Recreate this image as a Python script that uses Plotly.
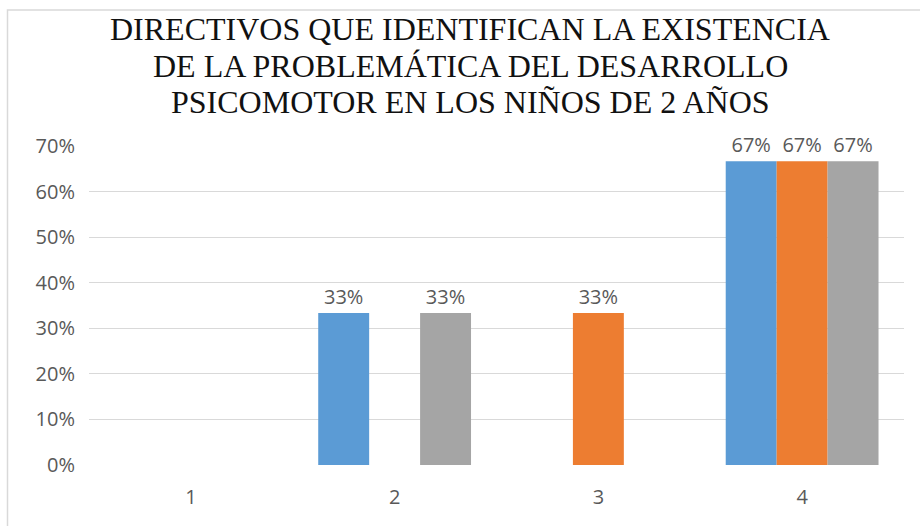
import plotly.graph_objects as go

# Chart data
categories = ["1", "2", "3", "4"]
serie1 = [0.0, 0.3333, 0.0, 0.6667]
serie2 = [0.0, 0.0, 0.3333, 0.6667]
serie3 = [0.0, 0.3333, 0.0, 0.6667]
series_names = ["Serie1", "Serie2", "Serie3"]
series_colors = ["#5b9bd5", "#ed7d31", "#a5a5a5"]
title_lines = [
    "DIRECTIVOS QUE IDENTIFICAN LA EXISTENCIA",
    "DE LA PROBLEMÁTICA DEL DESARROLLO",
    "PSICOMOTOR EN LOS NIÑOS DE 2 AÑOS",
]
y_ticks = [0, 0.1, 0.2, 0.3, 0.4, 0.5, 0.6, 0.7]

LABEL_COLOR = "#595959"
SANS = "Open Sans, Liberation Sans, sans-serif"
SERIF = "Liberation Serif, Times New Roman, serif"

fig = go.Figure()
for name, vals, color in zip(series_names, [serie1, serie2, serie3], series_colors):
    fig.add_trace(go.Bar(
        x=categories,
        y=vals,
        name=name,
        marker=dict(color=color, line=dict(width=0)),
        text=[f"{v:.0%}" if v else "" for v in vals],
        textposition="outside",
        textfont=dict(family=SANS, size=20, color=LABEL_COLOR),
        constraintext="none",
        cliponaxis=False,
        hoverinfo="x+y+name",
    ))

# Figure geometry (pixels) used to place the title lines and frame
W, H = 920, 526
ML, MR, MT, MB = 89, 16, 146, 61
plot_w = W - ML - MR
plot_h = H - MT - MB


def px_x(x):
    return (x - ML) / plot_w


def px_y(y):
    return (H - MB - y) / plot_h


title_centers = [29, 66, 102.5]
annotations = [
    dict(
        text=line, xref="paper", yref="paper",
        x=px_x(470), y=px_y(cy), xanchor="center", yanchor="middle",
        showarrow=False,
        font=dict(family=SERIF, size=32, color="#111111"),
    )
    for line, cy in zip(title_lines, title_centers)
]

fig.update_layout(
    width=W, height=H,
    margin=dict(l=ML, r=MR, t=MT, b=MB, pad=0),
    paper_bgcolor="white",
    plot_bgcolor="white",
    barmode="group",
    bargap=0.25,
    bargroupgap=0,
    showlegend=False,
    annotations=annotations,
    shapes=[dict(
        type="rect", xref="paper", yref="paper",
        x0=px_x(7.5), x1=px_x(960), y0=px_y(560), y1=px_y(10),
        line=dict(color="#d9d9d9", width=1.5), fillcolor="rgba(0,0,0,0)",
        layer="below",
    )],
    xaxis=dict(
        type="category",
        showgrid=False, showline=False, zeroline=False, ticks="",
        tickfont=dict(family=SANS, size=20, color=LABEL_COLOR),
        ticklabelstandoff=18,
    ),
    yaxis=dict(
        range=[0, 0.7],
        tickvals=y_ticks,
        tickformat=".0%",
        showgrid=True, gridcolor="#d9d9d9", gridwidth=1,
        zeroline=True, zerolinecolor="white", zerolinewidth=3,
        showline=False, ticks="",
        tickfont=dict(family=SANS, size=20, color=LABEL_COLOR),
        ticklabelstandoff=13,
    ),
)

fig.write_html("out.html")
